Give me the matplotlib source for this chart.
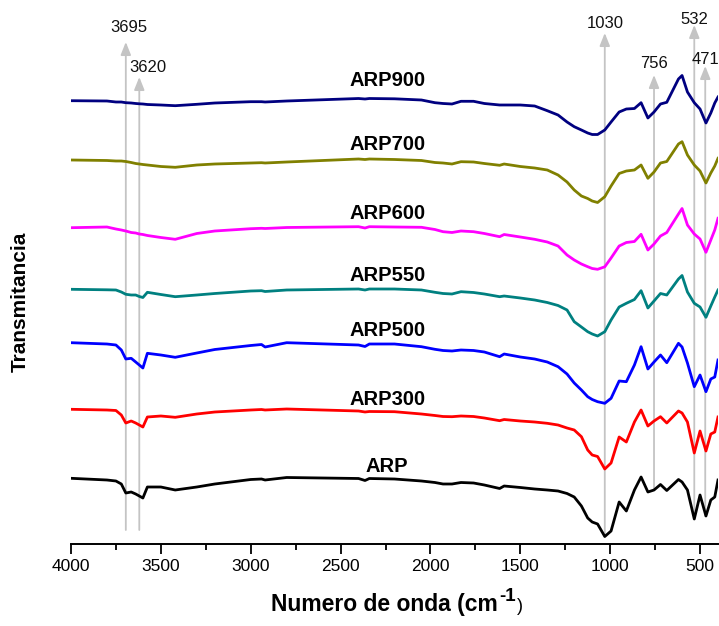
import numpy as np
import matplotlib
matplotlib.use("Agg")
import matplotlib.pyplot as plt

plt.rcParams['font.family'] = ['Liberation Sans', 'DejaVu Sans']

# Numero de onda (cm-1), malla comun para todos los espectros
wavenumber = [4000, 3800, 3750, 3720, 3695, 3665, 3640, 3620, 3600, 3575,
              3500, 3420, 3300, 3200, 3000, 2940, 2920, 2800, 2400, 2364,
              2340, 2200, 2050, 1975, 1930, 1880, 1830, 1760, 1700, 1615,
              1590, 1500, 1420, 1350, 1290, 1240, 1200, 1160, 1125, 1100,
              1070, 1030, 995, 950, 910, 865, 828, 790, 756, 720,
              685, 620, 600, 570, 532, 500, 467, 440, 418, 400]

# Transmitancia (u.a., espectros desplazados)
arp = [65.7, 64, 63, 60, 51, 52, 50, 48, 46, 57,
       57, 54, 57, 60, 64.5, 65, 64, 66.5, 65.5, 63.5,
       65.5, 65, 63, 61.5, 60, 60, 61.5, 61, 59, 55.5,
       58, 56.5, 55, 54, 53, 50.5, 47, 38, 26, 22,
       20, 7.5, 13, 42, 33, 54, 67, 52, 54, 59.5,
       53.5, 64.5, 62, 54, 25, 49, 28, 44, 47, 64]
arp300 = [134.7, 134, 133.5, 129, 121, 123, 121, 119, 117, 127,
          128, 126.7, 130, 132, 134, 134.5, 134, 135, 133, 132,
          132.5, 132.3, 130, 128.5, 127.5, 127.3, 128, 127.5, 126, 123.3,
          124.5, 123, 122, 120.7, 119, 116, 114, 107.3, 94, 89,
          87.5, 75, 81, 107, 102, 122, 134, 118, 123, 127.3,
          121, 133, 131, 122, 91, 113, 93, 110, 112, 127]
arp500 = [201.3, 200, 199, 194, 185, 185.7, 182, 179, 176, 190.7,
          189, 186.7, 191, 194.5, 198.5, 199.5, 197, 201.3, 199, 197.5,
          200, 200, 197.3, 194.7, 193.5, 193, 194, 193.5, 192, 187.3,
          190, 187, 185, 182, 177.3, 170, 161, 154, 147.3, 144.5,
          142.3, 140.7, 145.7, 163, 162.3, 179, 197.3, 175, 182, 189,
          181.3, 200.7, 197, 181, 157.3, 169, 152.3, 165, 167, 184]
arp550 = [254.7, 254.2, 254, 252, 249.7, 249, 249, 247.5, 246.5, 251.7,
          249.5, 247.3, 249, 250.5, 253, 253.3, 252.5, 254, 255, 254,
          255, 255, 254, 251.7, 250.5, 250, 252.3, 251.5, 250, 247.3,
          248, 246, 244, 241.5, 238.5, 234, 222.3, 217, 212.3, 210,
          208, 212.3, 224, 237, 240.7, 244.5, 253.3, 236, 243, 250.5,
          249, 265, 268.5, 252, 240.7, 237, 226.7, 238, 247, 254]
arp600 = [316.3, 317, 315, 314, 313, 311.5, 311, 310, 309.5, 308.5,
          306.5, 304.7, 310.5, 313, 315.3, 315.7, 315.5, 316.5, 317.3, 316,
          317.3, 317, 316.7, 314.5, 312.3, 311.5, 313, 312.3, 310.5, 307.3,
          309.5, 307, 304.7, 302, 298, 289, 284, 280, 277.3, 275.5,
          274.7, 277.2, 286, 298, 301.5, 302.5, 309.7, 294, 300, 308,
          311.5, 330, 335.5, 319, 310, 305, 291.7, 304, 314, 325.7]
arp700 = [384, 383.5, 383, 383, 382.5, 381.5, 380.5, 380, 379.5, 379,
          377.5, 376.7, 379, 380, 381, 381.3, 381, 382, 385, 384.5,
          385, 384.5, 383.5, 381.5, 381, 380, 382.3, 382, 380.5, 378.7,
          380, 377.5, 376, 374, 369, 362, 354, 348, 345.5, 343,
          341.5, 347.3, 358, 370.5, 373, 374, 379, 365.7, 372, 381,
          382.5, 400, 402.3, 389, 379, 373, 361, 371, 378, 385.7]
arp900 = [443.3, 443, 442, 442, 441.3, 441, 440.5, 440.2, 440, 439.5,
          439, 438.3, 439.7, 441, 442.3, 442.3, 442, 443, 445.5, 445,
          445.5, 445.2, 444, 441.3, 440.5, 440, 442.7, 442.7, 440.5, 439,
          439, 439, 438, 433.3, 429, 422, 417.3, 414, 411, 409.5,
          409.5, 414, 422, 432, 435, 435.5, 441.3, 426, 432, 440,
          441.7, 465, 468.5, 452, 441.3, 435, 421, 431, 441, 447]

names = ['ARP', 'ARP300', 'ARP500', 'ARP550', 'ARP600', 'ARP700', 'ARP900']
colors = ['black', '#ff0000', '#0000ff', '#008080', '#ff00ff', '#808000', '#000080']
label_y = [78, 144.5, 213, 268.5, 330.5, 400, 463]

# Bandas senaladas
peaks = [3695, 3620, 1030, 756, 532, 471]
arrow_bottom = [14, 14, 8, 54, 25, 28]
arrow_tip = [502, 467, 511, 469, 519, 478]
peak_label_x = [3680, 3575, 1030, 756, 532, 471]
peak_label_y = [516, 477, 521, 480, 524, 484]

fig = plt.figure(figsize=(7.19, 6.26), dpi=100)
ax = fig.add_axes([71 / 719, 82 / 626, 647 / 719, 544 / 626])

x = np.array(wavenumber)
series = [arp, arp300, arp500, arp550, arp600, arp700, arp900]

for i in range(len(peaks)):
    ax.annotate('', xy=(peaks[i], arrow_tip[i]), xytext=(peaks[i], arrow_bottom[i]),
                arrowprops=dict(arrowstyle='-|>,head_length=0.55,head_width=0.22',
                                color='#c4c4c4', lw=1.3, mutation_scale=14,
                                shrinkA=0, shrinkB=0), zorder=1)
    ax.text(peak_label_x[i], peak_label_y[i], str(peaks[i]), ha='center', va='center',
            fontsize=12, color='#111111', clip_on=False)

for y, name, c, ly in zip(series, names, colors, label_y):
    ax.plot(x, y, color=c, lw=2.0, zorder=3, solid_joinstyle='round')
    ax.text(2240, ly, name, ha='center', va='center', fontsize=14.5,
            fontweight='bold')

ax.set_xlim(4000, 400)
ax.set_ylim(0, 544)
ax.set_xticks([4000, 3500, 3000, 2500, 2000, 1500, 1000, 500])
ax.set_xticks(np.arange(3750, 400, -500), minor=True)
ax.set_yticks([])
for s in ['left', 'top', 'right']:
    ax.spines[s].set_visible(False)
ax.spines['bottom'].set_linewidth(1.4)
ax.tick_params(axis='x', which='major', direction='out', length=7, width=1.3,
               labelsize=12.5, pad=4)
ax.tick_params(axis='x', which='minor', direction='out', length=4, width=1.3)
ax.patch.set_alpha(0)

# Titulo del eje x en tres piezas (cm^-1 con guion, no signo menos)
renderer = fig.canvas.get_renderer()
base_y = (626 - 611) / 626
t1 = fig.text(0, base_y, 'Numero de onda (cm', fontsize=16.5, fontweight='bold',
              va='baseline')
t2 = fig.text(0, base_y + 10 / 626, '-1', fontsize=13.5, fontweight='bold',
              va='baseline')
t3 = fig.text(0, base_y, ')', fontsize=13, va='baseline')
w1 = t1.get_window_extent(renderer).width
w2 = t2.get_window_extent(renderer).width
w3 = t3.get_window_extent(renderer).width
x0 = 397 - (w1 + w2 + w3 + 2) / 2
t1.set_x(x0 / 719)
t2.set_x((x0 + w1 + 1) / 719)
t3.set_x((x0 + w1 + w2 + 2) / 719)

fig.text(20 / 719, 1 - 302 / 626, 'Transmitancia', rotation=90, ha='center',
         va='center', fontsize=15, fontweight='bold')

fig.savefig('out.png', dpi=100)
